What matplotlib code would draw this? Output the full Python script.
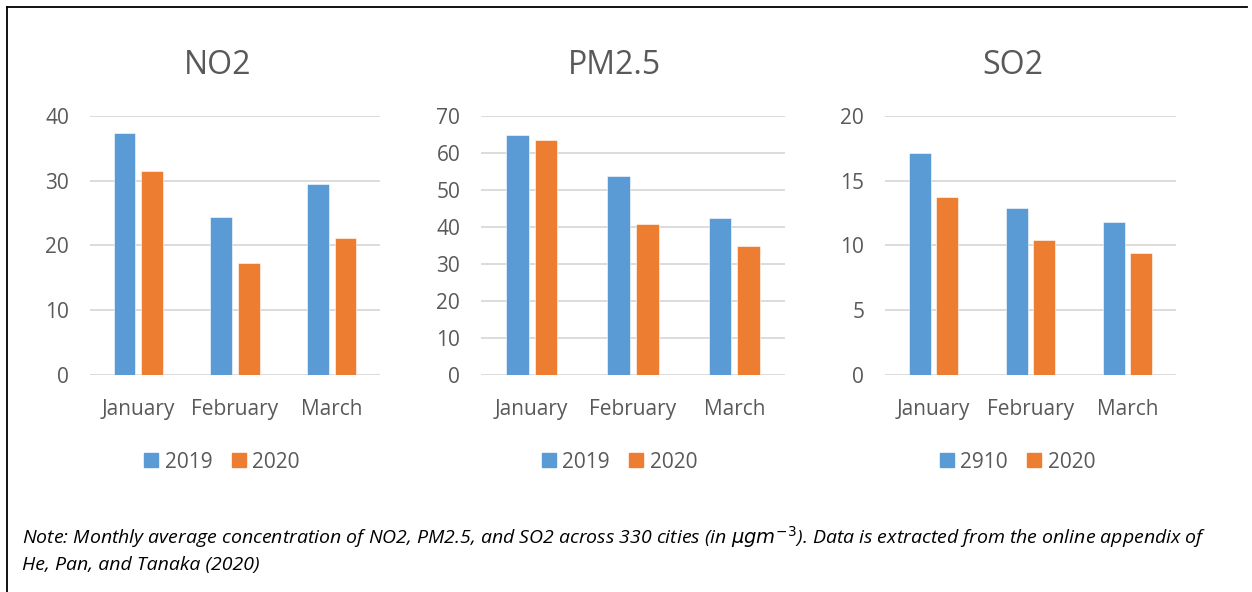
import matplotlib.pyplot as plt
from matplotlib.lines import Line2D
import numpy as np

plt.rcParams['font.family'] = ['Open Sans', 'DejaVu Sans']

months = ['January', 'February', 'March']
titles = ['NO2', 'PM2.5', 'SO2']

no2_2019 = [37.3, 24.4, 29.5]
no2_2020 = [31.4, 17.3, 21.1]
pm25_2019 = [64.8, 53.8, 42.3]
pm25_2020 = [63.3, 40.8, 34.8]
so2_2019 = [17.1, 12.9, 11.8]
so2_2020 = [13.7, 10.4, 9.4]

legend_labels = [['2019', '2020'], ['2019', '2020'], ['2910', '2020']]
y_ticks = [[0, 10, 20, 30, 40],
           [0, 10, 20, 30, 40, 50, 60, 70],
           [0, 5, 10, 15, 20]]

blue = '#5B9BD5'
orange = '#ED7D31'
grey_txt = '#595959'
grid_col = '#D9D9D9'

fig = plt.figure(figsize=(12.52, 5.92), dpi=100)

# axes placement in figure fractions
boxes = [(0.0719, 0.3666, 0.2316, 0.438),
         (0.3842, 0.3666, 0.2428, 0.438),
         (0.7069, 0.3666, 0.2324, 0.438)]
series = [(no2_2019, no2_2020), (pm25_2019, pm25_2020), (so2_2019, so2_2020)]

x = np.arange(len(months))
w = 0.225
off = 0.142

for i, (box, (a, b)) in enumerate(zip(boxes, series)):
    ax = fig.add_axes(box)
    ax.bar(x - off, a, width=w, color=blue, edgecolor='white', linewidth=0.4,
           label=legend_labels[i][0], zorder=3)
    ax.bar(x + off, b, width=w, color=orange, edgecolor='white', linewidth=0.4,
           label=legend_labels[i][1], zorder=3)
    ax.set_xlim(-0.5, 2.5)
    ax.set_ylim(0, y_ticks[i][-1])
    ax.set_yticks(y_ticks[i])
    ax.set_xticks(x)
    ax.set_xticklabels(months)
    for s in ax.spines.values():
        s.set_visible(False)
    ax.grid(axis='y', color=grid_col, linewidth=1.3, zorder=0)
    ax.tick_params(length=0, labelsize=15, labelcolor=grey_txt)
    ax.tick_params(axis='y', pad=15)
    ax.tick_params(axis='x', pad=17.5)
    ax.set_title(titles[i], fontsize=23, color=grey_txt, pad=30, x=0.44)
    handles = [Line2D([], [], marker='s', linestyle='none', markersize=10,
                      color=c) for c in (blue, orange)]
    ax.legend(handles, legend_labels[i], loc='center', ncol=2,
              bbox_to_anchor=(0.455, -0.336), frameon=False, fontsize=15,
              labelcolor=grey_txt, handlelength=0.7, handletextpad=0.3,
              columnspacing=0.9, borderaxespad=0)

note1 = (r'Note: Monthly average concentration of NO2, PM2.5, and SO2 across 330 cities (in $\mu gm^{-3}$). '
         r'Data is extracted from the online appendix of')
note2 = 'He, Pan, and Tanaka (2020)'
fig.text(22 / 1252, 1 - 537 / 592, note1, fontsize=14, style='italic',
         va='center', ha='left')
fig.text(22 / 1252, 1 - 565 / 592, note2, fontsize=14, style='italic',
         va='center', ha='left')

# page frame (left and top edges)
fig.add_artist(Line2D([6.5 / 1252, 6.5 / 1252], [0, 1 - 6.5 / 592],
                      color='black', linewidth=1.3, transform=fig.transFigure))
fig.add_artist(Line2D([6.5 / 1252, 1247 / 1252], [1 - 6.5 / 592, 1 - 6.5 / 592],
                      color='black', linewidth=1.3, transform=fig.transFigure))

fig.savefig('out.png', dpi=100, facecolor='white')
